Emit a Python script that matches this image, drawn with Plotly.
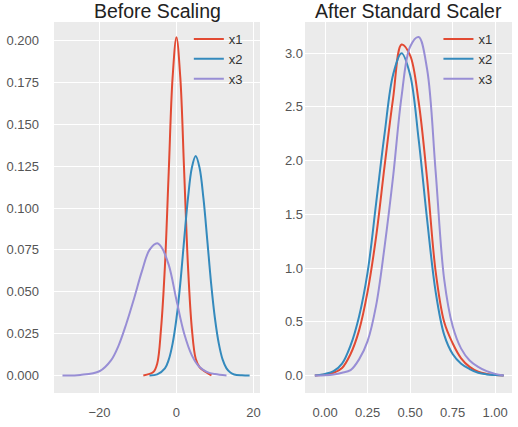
import plotly.graph_objects as go

# Before scaling: KDE curves
b_x1_x = [-8.6, -6, -5, -4, -3, -2, -1, 0, 1, 2, 3, 4, 5, 6, 7, 9.1]
b_x1_y = [0.0, 0.002, 0.007, 0.028, 0.065, 0.122, 0.178, 0.202, 0.178, 0.122, 0.065, 0.028, 0.010, 0.005, 0.003, 0.0]

b_x2_x = [-7, -5, -3, -2, -1, 0, 1, 2, 3, 4, 5, 6, 7, 8, 9, 10, 11, 12, 13, 14, 15, 17, 19]
b_x2_y = [0.0, 0.0006, 0.0042, 0.0094, 0.019, 0.034, 0.055, 0.081, 0.106, 0.124, 0.131, 0.124, 0.106, 0.081,
          0.055, 0.034, 0.019, 0.0094, 0.0042, 0.0017, 0.0006, 0.0001, 0.0]

b_x3_x = [-29.6, -25, -20, -17, -15, -13, -11, -9, -7, -5, -4, -2, 0, 2, 4, 6, 8, 10, 13]
b_x3_y = [0.0, 0.0003, 0.0025, 0.009, 0.018, 0.031, 0.046, 0.062, 0.075, 0.079, 0.077, 0.066, 0.045, 0.025,
          0.012, 0.005, 0.002, 0.0008, 0.0]

# After scaling
a_x = [-0.06, 0.0, 0.05, 0.10, 0.15, 0.20, 0.25, 0.30, 0.35, 0.40, 0.45, 0.50, 0.55, 0.60, 0.65, 0.70,
       0.75, 0.80, 0.85, 0.90, 0.95, 1.00, 1.05]
a_x1_y = [0.0, 0.01, 0.025, 0.07, 0.2, 0.42, 0.78, 1.29, 1.95, 2.58, 3.08, 2.98, 2.55, 1.83, 0.97, 0.5,
          0.3, 0.16, 0.08, 0.035, 0.015, 0.005, 0.0]
a_x2_y = [0.0, 0.015, 0.04, 0.11, 0.28, 0.55, 0.96, 1.6, 2.25, 2.8, 3.0, 2.8, 2.2, 1.45, 0.78, 0.38,
          0.2, 0.11, 0.06, 0.025, 0.01, 0.004, 0.0]
a_x3_y = [0.0, 0.003, 0.01, 0.025, 0.05, 0.15, 0.32, 0.65, 1.2, 1.85, 2.6, 3.06, 3.15, 2.85, 1.9, 0.9,
          0.46, 0.25, 0.14, 0.08, 0.04, 0.015, 0.0]

names = ['x1', 'x2', 'x3']
colors = ['#E24A33', '#348ABD', '#988ED5']

fig = go.Figure()
before = [(b_x1_x, b_x1_y), (b_x2_x, b_x2_y), (b_x3_x, b_x3_y)]
for (xs, ys), name, color in zip(before, names, colors):
    fig.add_trace(go.Scatter(x=xs, y=ys, name=name, mode='lines',
                             line=dict(color=color, width=2, shape='spline'),
                             xaxis='x', yaxis='y', legend='legend'))
for ys, name, color in zip([a_x1_y, a_x2_y, a_x3_y], names, colors):
    fig.add_trace(go.Scatter(x=a_x, y=ys, name=name, mode='lines',
                             line=dict(color=color, width=2, shape='spline'),
                             xaxis='x2', yaxis='y2', legend='legend2'))

axis_style = dict(showgrid=True, gridcolor='white', gridwidth=1, zeroline=False, showline=False,
                  ticks='', automargin=False, tickfont=dict(size=13, color='#555555'))

fig.update_layout(
    width=518, height=427,
    margin=dict(l=54, r=6, t=22, b=34),
    paper_bgcolor='white', plot_bgcolor='#EBEBEB',
    font=dict(family='Liberation Sans, Arial, sans-serif'),
    xaxis=dict(domain=[0, 0.4498], range=[-31.8, 21.7], tickvals=[-20, 0, 20],
               ticktext=['\u221220', '0', '20'], ticklabelstandoff=10, **axis_style),
    yaxis=dict(domain=[0, 1], range=[-0.0105, 0.2111], tickvals=[0, 0.025, 0.05, 0.075, 0.1, 0.125, 0.15, 0.175, 0.2],
               tickformat='.3f', ticklabelstandoff=14, **axis_style),
    xaxis2=dict(domain=[0.548, 1], range=[-0.118, 1.099], tickvals=[0, 0.25, 0.5, 0.75, 1.0],
                tickformat='.2f', anchor='y2', ticklabelstandoff=10, **axis_style),
    yaxis2=dict(domain=[0, 1], range=[-0.163, 3.29], tickvals=[0, 0.5, 1.0, 1.5, 2.0, 2.5, 3.0],
                tickformat='.1f', anchor='x2', ticklabelstandoff=1, **axis_style),
    legend=dict(x=0.2944, y=0.9946, xanchor='left', yanchor='top', bgcolor='rgba(0,0,0,0)',
                font=dict(size=13, color='#333333'), tracegroupgap=0),
    legend2=dict(x=0.8394, y=0.9946, xanchor='left', yanchor='top', bgcolor='rgba(0,0,0,0)',
                 font=dict(size=13, color='#333333'), tracegroupgap=0),
    annotations=[
        dict(text='Before Scaling', x=0.2249, y=1.0, xref='paper', yref='paper', yshift=-2,
             xanchor='center', yanchor='bottom', showarrow=False, font=dict(size=19.5, color='#222222')),
        dict(text='After Standard Scaler', x=0.774, y=1.0, xref='paper', yref='paper', yshift=-2,
             xanchor='center', yanchor='bottom', showarrow=False, font=dict(size=19.5, color='#222222')),
    ],
)

# drop the browser's default 8px page margin so the figure sits at the window's corner
fig.write_html('out.html', config={'displayModeBar': False},
               post_script="document.body.style.margin='0';")
